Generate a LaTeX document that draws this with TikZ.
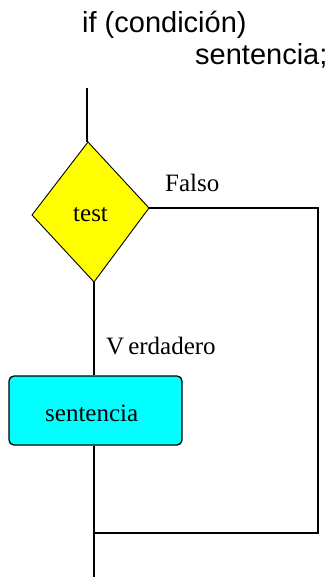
\documentclass[tikz,border=0pt]{standalone}
\usepackage{fontspec}
\setmainfont{Liberation Serif}
\newfontfamily\arialfont{Liberation Sans}
\usetikzlibrary{shapes.geometric}
\definecolor{dyellow}{HTML}{FFFF00}
\definecolor{dcyan}{HTML}{00FFFF}
\tikzset{
  codetext/.style={font=\arialfont\fontsize{29}{34}\selectfont, inner sep=0pt, anchor=base west},
  lbl/.style={font=\fontsize{25}{29}\selectfont, inner sep=0pt, anchor=base west},
  flow/.style={draw=black, line width=1.3pt},
  stmtbox/.style={draw=black, line width=1.3pt, fill=dcyan, rounded corners=5pt},
}
\begin{document}
\begin{tikzpicture}[x=1pt,y=-1pt]
\useasboundingbox (0,0) rectangle (334,577);
% code text
\node[codetext] (c1) at (82,33) {if (condición)};
\node[codetext] (c2) at (195,65) {sentencia;};
% diamond corners
\coordinate (dT) at (88,142);
\coordinate (dR) at (149,208);
\coordinate (dB) at (94,282);
\coordinate (dL) at (32,215);
\fill[dyellow] (dT) -- (dR) -- (dB) -- (dL) -- cycle;
\draw[black, line width=0.9pt] (dT) -- (dR) -- (dB) -- (dL) -- cycle;
\node[lbl] (test) at (73,221) {test};
% entry
\coordinate (start) at (87,88);
\draw[flow] (start) -- (start |- dT);
% statement box
\node[stmtbox, minimum width=173pt, minimum height=69pt, inner sep=0pt] (box) at (95.5,410.5) {};
\node[lbl] (stxt) at (45,421) {sentencia};
% true path
\draw[flow] (dB) -- (dB |- box.north);
\coordinate (endpt) at (94,577);
\draw[flow] (dB |- box.south) -- (endpt);
% false path
\coordinate (fr) at (318,208);
\coordinate (fb) at (318,533);
\coordinate (jn) at (94,533);
\draw[flow] (dR) -- (fr) -- (fb) -- (jn);
% labels
\node[lbl] (falso) at (165,191) {Falso};
\node[lbl] (verd) at (106,354) {V\kern4pt erdadero};
\end{tikzpicture}
\end{document}
